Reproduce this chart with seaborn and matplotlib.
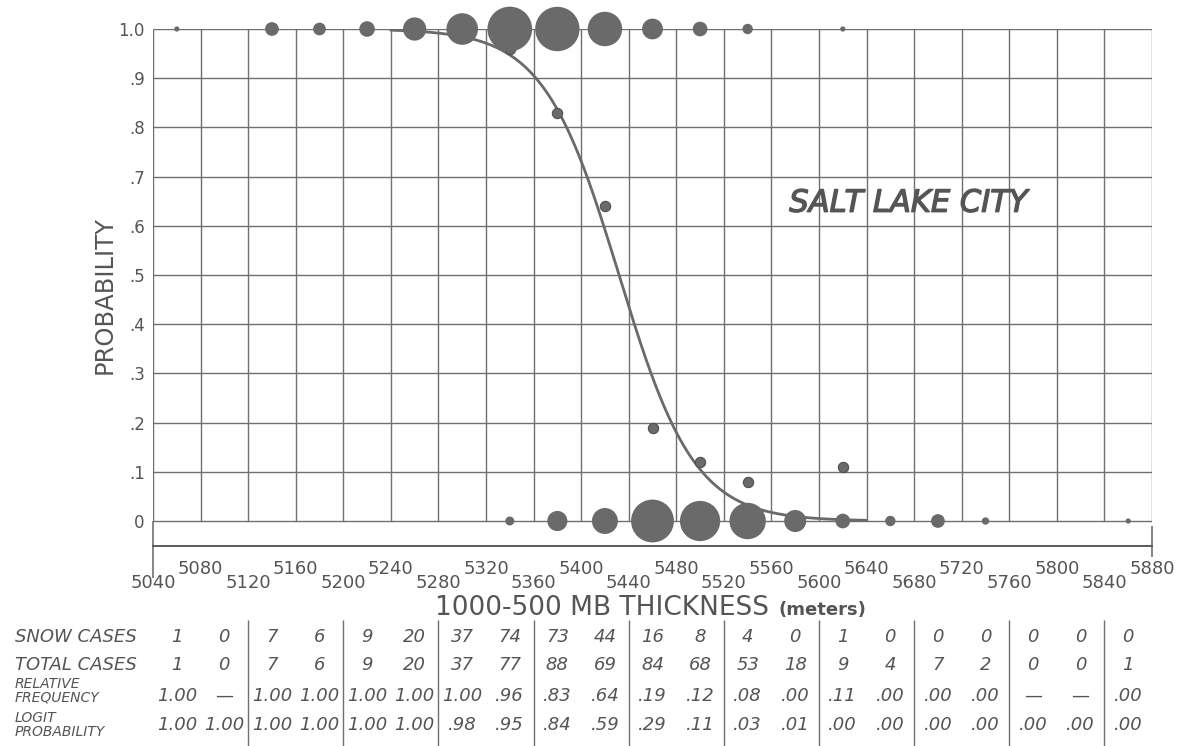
import numpy as np
import pandas as pd
import matplotlib
matplotlib.use("Agg")
import matplotlib.pyplot as plt
import matplotlib.transforms as mtransforms
import matplotlib.patheffects as pe
import seaborn as sns

# 40 m thickness classes (centres), 1000-500 mb, Salt Lake City
thickness = [5060, 5100, 5140, 5180, 5220, 5260, 5300, 5340, 5380, 5420, 5460,
             5500, 5540, 5580, 5620, 5660, 5700, 5740, 5780, 5820, 5860]
snow_cases = [1, 0, 7, 6, 9, 20, 37, 74, 73, 44, 16, 8, 4, 0, 1, 0, 0, 0, 0, 0, 0]
total_cases = [1, 0, 7, 6, 9, 20, 37, 77, 88, 69, 84, 68, 53, 18, 9, 4, 7, 2, 0, 0, 1]
rel_freq = [1.00, None, 1.00, 1.00, 1.00, 1.00, 1.00, .96, .83, .64, .19, .12,
            .08, .00, .11, .00, .00, .00, None, None, .00]
logit_prob = [1.00, 1.00, 1.00, 1.00, 1.00, 1.00, .98, .95, .84, .59, .29, .11,
              .03, .01, .00, .00, .00, .00, .00, .00, .00]

x_ticks_low = [5040, 5120, 5200, 5280, 5360, 5440, 5520, 5600, 5680, 5760, 5840]
x_ticks_high = [5080, 5160, 5240, 5320, 5400, 5480, 5560, 5640, 5720, 5800, 5880]
y_ticks = [0, .1, .2, .3, .4, .5, .6, .7, .8, .9, 1.0]
y_labels = ["0", ".1", ".2", ".3", ".4", ".5", ".6", ".7", ".8", ".9", "1.0"]

INK = "#555555"
GRID = "#6f6f6f"
DOT = "#6a6a6a"

sns.set_theme(style="white")
plt.rcParams["font.family"] = ["DejaVu Sans"]

W, H = 1177, 746
fig = plt.figure(figsize=(W / 100, H / 100), dpi=100)
ax = fig.add_axes([153 / W, 1 - 546 / H, 999 / W, 517 / H])
ax.set_xlim(5040, 5880)
ax.set_ylim(-0.0508, 1.0)

# graph-paper grid
ax.vlines(np.arange(5040, 5881, 40), 0, 1, color=GRID, lw=1.0, zorder=1)
ax.hlines(y_ticks, 5040, 5880, color=GRID, lw=1.0, zorder=1)
ax.vlines(5040, -0.115, 0, color=GRID, lw=1.2, zorder=1, clip_on=False)
ax.vlines(5880, -0.074, -0.011, color=GRID, lw=1.2, zorder=1, clip_on=False)

# logit curve fitted to the table's logit probabilities
lx = np.array(thickness, dtype=float)
lp = np.array(logit_prob)
m = (lp > 0) & (lp < 1)
coef = np.polyfit(lx[m], np.log(lp[m] / (1 - lp[m])), 1, w=lp[m] * (1 - lp[m]))
xs = np.linspace(5240, 5640, 300)
curve = pd.DataFrame({"x": xs, "p": 1 / (1 + np.exp(-(coef[0] * xs + coef[1])))})
sns.lineplot(data=curve, x="x", y="p", color=DOT, lw=2.0, ax=ax, zorder=2)

# relative frequencies (only those off the 0 / 1 lines show)
rf = pd.DataFrame({"x": thickness, "p": rel_freq}).dropna()
rf = rf[(rf["p"] > 0) & (rf["p"] < 1)]
sns.scatterplot(data=rf, x="x", y="p", s=55, color=DOT, edgecolor="#4f4f4f",
                linewidth=0.8, legend=False, ax=ax, zorder=3, clip_on=False)

# case counts as bubbles: snow at 1, no snow at 0
snow = pd.DataFrame({"x": thickness, "p": 1.0, "n": snow_cases})
rain = pd.DataFrame({"x": thickness, "p": 0.0,
                     "n": np.array(total_cases) - np.array(snow_cases)})
bubbles = pd.concat([snow, rain])
bubbles = bubbles[bubbles["n"] > 0]
sns.scatterplot(data=bubbles, x="x", y="p", size="n", sizes=(0, 14 * 74),
                size_norm=(0, 74), color=DOT, linewidth=0,
                legend=False, ax=ax, zorder=4, clip_on=False)

# axes
for side in ["top", "right", "left"]:
    ax.spines[side].set_visible(False)
ax.spines["bottom"].set_color("#5a5a5a")
ax.spines["bottom"].set_linewidth(1.4)
ax.set_xticks(x_ticks_low, [str(v) for v in x_ticks_low])
ax.set_xticks(x_ticks_high, [str(v) for v in x_ticks_high], minor=True)
ax.tick_params(axis="x", which="major", length=17, width=1.1, color="#5a5a5a",
               pad=3.5, labelsize=13, labelcolor=INK)
ax.tick_params(axis="x", which="minor", length=6.5, width=1.1, color="#5a5a5a",
               pad=3.5, labelsize=13, labelcolor=INK)
ax.set_yticks(y_ticks, y_labels)
ax.tick_params(axis="y", length=0, pad=6, labelsize=12, labelcolor=INK)
ax.set_xlabel("")
ax.set_ylabel("")

fig.text(105 / W, 1 - 295 / H, "PROBABILITY", rotation=90, ha="center",
         va="center", fontsize=17.5, color=INK)
fig.text(435 / W, 1 - 608 / H, "1000-500 MB THICKNESS", ha="left", va="center",
         fontsize=19, color=INK)
fig.text(779 / W, 1 - 610 / H, "(meters)", ha="left", va="center",
         fontsize=13, fontweight="bold", color=INK)
ax.text(0.756, 0.663, "SALT LAKE CITY", transform=ax.transAxes, ha="center",
        va="center", fontsize=22, style="italic", color=INK,
        path_effects=[pe.withStroke(linewidth=1.0, foreground=INK)])

# table under the chart
tr = mtransforms.blended_transform_factory(ax.transData, fig.transFigure)


def fmt(v):
    if v is None:
        return "\u2014"
    return f"{v:.2f}" if v >= 1 else f"{v:.2f}"[1:]


rows = [
    (637, [str(v) for v in snow_cases]),
    (665, [str(v) for v in total_cases]),
    (696, [fmt(v) for v in rel_freq]),
    (725, [fmt(v) for v in logit_prob]),
]
for ypx, vals in rows:
    for xv, s in zip(thickness, vals):
        ax.text(xv, 1 - ypx / H, s, transform=tr, ha="center", va="center",
                fontsize=13, style="italic", color=INK)

fig.text(15 / W, 1 - 637 / H, "SNOW CASES", ha="left", va="center",
         fontsize=13, style="italic", color=INK)
fig.text(15 / W, 1 - 665 / H, "TOTAL CASES", ha="left", va="center",
         fontsize=13, style="italic", color=INK)
fig.text(15 / W, 1 - 691 / H, "RELATIVE\nFREQUENCY", ha="left", va="center",
         fontsize=10, style="italic", color=INK, linespacing=0.95)
fig.text(15 / W, 1 - 725 / H, "LOGIT\nPROBABILITY", ha="left", va="center",
         fontsize=10, style="italic", color=INK, linespacing=0.95)

ax.vlines(x_ticks_low[1:], 0, 1 - 620 / H, transform=tr, color=GRID, lw=1.0,
          clip_on=False)

fig.savefig("out.png", dpi=100)
